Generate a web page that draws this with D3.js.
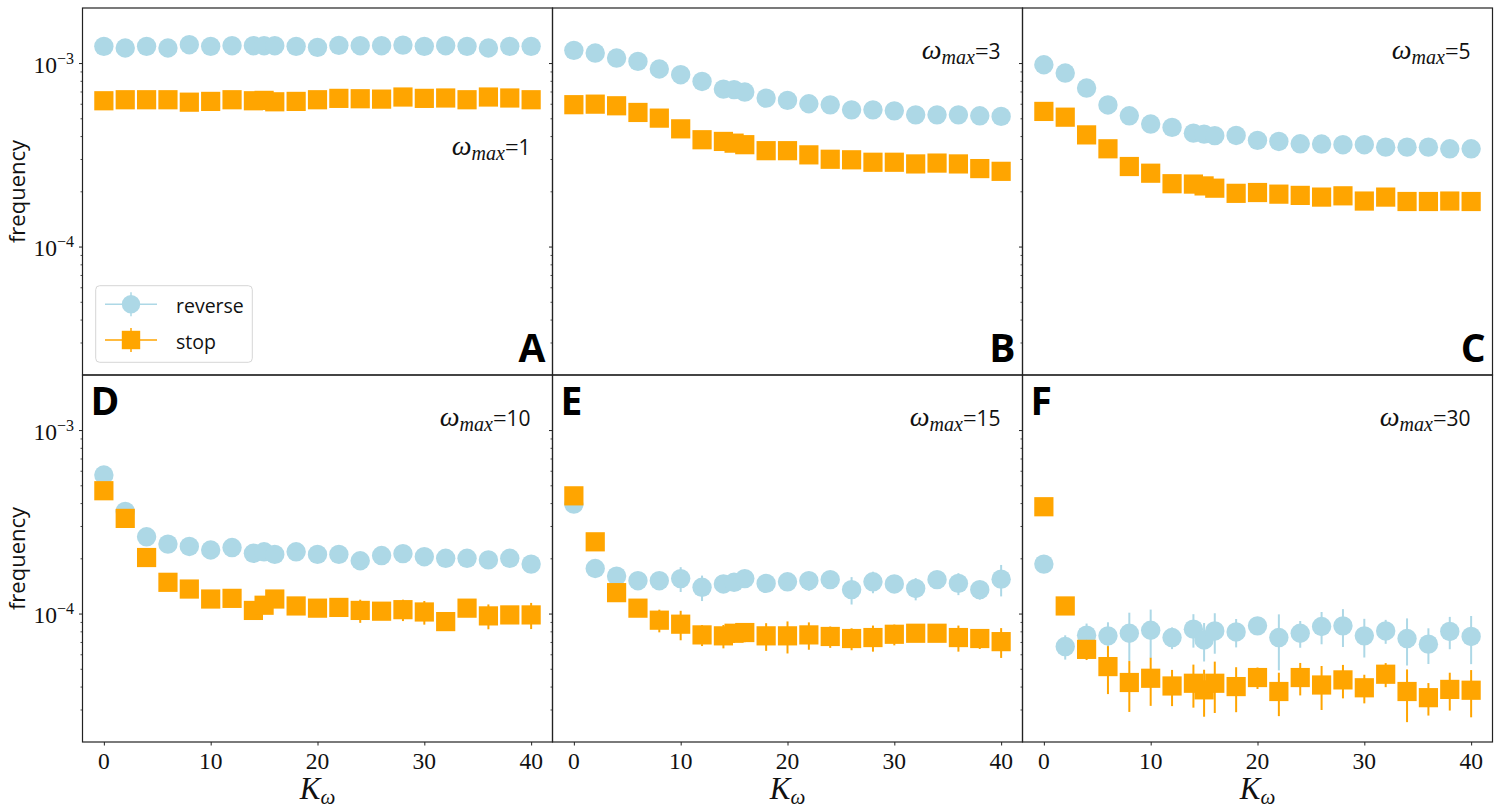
<!DOCTYPE html>
<html>
<head>
<meta charset="utf-8">
<script src="https://cdn.jsdelivr.net/npm/d3@7"></script>
<style>
  body { margin: 0; background: #fff; }
  svg { display: block; }
</style>
</head>
<body>
<div id="chart"></div>
<script>
// K_omega values shared by every panel
const kOmega = [0, 2, 4, 6, 8, 10, 12, 14, 15, 16, 18, 20, 22, 24, 26, 28, 30, 32, 34, 36, 38, 40];

const panelLetters = ['A', 'B', 'C', 'D', 'E', 'F'];
const omegaMax = ['1', '3', '5', '10', '15', '30'];

const reverseA = [1.233e-3, 1.208e-3, 1.233e-3, 1.208e-3, 1.259e-3, 1.233e-3, 1.243e-3, 1.243e-3, 1.243e-3, 1.243e-3, 1.233e-3,
    1.218e-3, 1.248e-3, 1.243e-3, 1.243e-3, 1.253e-3, 1.233e-3, 1.243e-3, 1.233e-3, 1.208e-3, 1.233e-3, 1.233e-3];
const stopA = [6.23e-4, 6.31e-4, 6.31e-4, 6.31e-4, 6.12e-4, 6.18e-4, 6.31e-4, 6.23e-4, 6.26e-4, 6.15e-4, 6.18e-4,
    6.31e-4, 6.42e-4, 6.39e-4, 6.36e-4, 6.53e-4, 6.42e-4, 6.45e-4, 6.31e-4, 6.53e-4, 6.45e-4, 6.31e-4];

const reverseB = [1.173e-3, 1.134e-3, 1.065e-3, 1.021e-3, 9.28e-4, 8.64e-4, 7.94e-4, 7.21e-4, 7.16e-4, 6.95e-4, 6.44e-4,
    6.26e-4, 6.0e-4, 5.92e-4, 5.56e-4, 5.56e-4, 5.49e-4, 5.22e-4, 5.22e-4, 5.22e-4, 5.16e-4, 5.12e-4];
const stopB = [5.93e-4, 5.97e-4, 5.85e-4, 5.38e-4, 5.01e-4, 4.38e-4, 3.82e-4, 3.74e-4, 3.66e-4, 3.59e-4, 3.33e-4,
    3.33e-4, 3.16e-4, 2.99e-4, 2.97e-4, 2.88e-4, 2.88e-4, 2.82e-4, 2.85e-4, 2.82e-4, 2.66e-4, 2.57e-4];

const reverseC = [9.79e-4, 8.82e-4, 7.31e-4, 5.91e-4, 5.16e-4, 4.65e-4, 4.46e-4, 4.15e-4, 4.1e-4, 4.02e-4, 4.03e-4,
    3.79e-4, 3.74e-4, 3.63e-4, 3.62e-4, 3.59e-4, 3.59e-4, 3.48e-4, 3.48e-4, 3.48e-4, 3.41e-4, 3.41e-4];
const stopC = [5.45e-4, 5.07e-4, 4.06e-4, 3.41e-4, 2.73e-4, 2.51e-4, 2.2e-4, 2.19e-4, 2.14e-4, 2.08e-4, 1.95e-4,
    1.97e-4, 1.93e-4, 1.9e-4, 1.86e-4, 1.89e-4, 1.77e-4, 1.86e-4, 1.76e-4, 1.76e-4, 1.77e-4, 1.76e-4];

const reverseD = [5.69e-4, 3.6e-4, 2.62e-4, 2.39e-4, 2.32e-4, 2.22e-4, 2.29e-4, 2.13e-4, 2.17e-4, 2.1e-4, 2.17e-4,
    2.1e-4, 2.1e-4, 1.94e-4, 2.07e-4, 2.12e-4, 2.04e-4, 2.0e-4, 2.0e-4, 1.96e-4, 2.0e-4, 1.86e-4];
const stopD = [4.67e-4, 3.3e-4, 2.02e-4, 1.48e-4, 1.36e-4, 1.2e-4, 1.21e-4, 1.04e-4, 1.11e-4, 1.2e-4, 1.1e-4,
    1.07e-4, 1.08e-4, 1.04e-4, 1.03e-4, 1.05e-4, 1.02e-4, 9.04e-5, 1.07e-4, 9.71e-5, 9.83e-5, 9.83e-5];
const reverseErrD = [5e-6, 5e-6, 5e-6, 5e-6, 5e-6, 5e-6, 5e-6, 5e-6, 5e-6, 5e-6, 1.6e-5,
    5e-6, 5e-6, 6e-6, 5e-6, 6e-6, 5e-6, 5e-6, 5e-6, 5e-6, 5e-6, 6e-6];
const stopErrD = [5e-6, 5e-6, 5e-6, 5e-6, 6e-6, 6e-6, 6e-6, 8e-6, 8e-6, 8e-6, 8e-6,
    8e-6, 8e-6, 1.5e-5, 8e-6, 1.4e-5, 1.5e-5, 8e-6, 8e-6, 1.5e-5, 1.0e-5, 1.6e-5];

const reverseE = [3.95e-4, 1.76e-4, 1.6e-4, 1.51e-4, 1.51e-4, 1.55e-4, 1.39e-4, 1.45e-4, 1.48e-4, 1.55e-4, 1.46e-4,
    1.49e-4, 1.51e-4, 1.53e-4, 1.35e-4, 1.49e-4, 1.45e-4, 1.37e-4, 1.53e-4, 1.46e-4, 1.35e-4, 1.54e-4];
const stopE = [4.38e-4, 2.46e-4, 1.3e-4, 1.07e-4, 9.2e-5, 8.75e-5, 7.65e-5, 7.56e-5, 7.81e-5, 7.88e-5, 7.56e-5,
    7.56e-5, 7.65e-5, 7.5e-5, 7.31e-5, 7.4e-5, 7.71e-5, 7.81e-5, 7.81e-5, 7.4e-5, 7.31e-5, 7.03e-5];
const reverseErrE = [5e-6, 8e-6, 8e-6, 1.0e-5, 1.0e-5, 2.4e-5, 2.2e-5, 1.5e-5, 1.2e-5, 1.4e-5, 1.0e-5,
    1.4e-5, 1.8e-5, 1.5e-5, 2.3e-5, 2.0e-5, 1.5e-5, 1.9e-5, 1.5e-5, 2.0e-5, 1.6e-5, 3.0e-5];
const stopErrE = [5e-6, 5e-6, 6e-6, 8e-6, 1.3e-5, 1.6e-5, 1.0e-5, 1.1e-5, 9e-6, 9e-6, 1.3e-5,
    1.5e-5, 1.3e-5, 1.0e-5, 1.0e-5, 1.2e-5, 1.0e-5, 8e-6, 8e-6, 1.2e-5, 9e-6, 1.3e-5];

const reverseF = [1.86e-4, 6.61e-5, 7.62e-5, 7.56e-5, 7.81e-5, 8.11e-5, 7.4e-5, 8.22e-5, 7.18e-5, 8.04e-5, 7.94e-5,
    8.57e-5, 7.4e-5, 7.81e-5, 8.5e-5, 8.57e-5, 7.56e-5, 8.04e-5, 7.31e-5, 6.81e-5, 7.99e-5, 7.5e-5];
const stopF = [3.82e-4, 1.1e-4, 6.38e-5, 5.14e-5, 4.21e-5, 4.44e-5, 4.03e-5, 4.17e-5, 3.84e-5, 4.17e-5, 4.0e-5,
    4.48e-5, 3.76e-5, 4.48e-5, 4.08e-5, 4.35e-5, 3.94e-5, 4.67e-5, 3.76e-5, 3.48e-5, 3.86e-5, 3.82e-5];
const reverseErrF = [6e-6, 1.0e-5, 1.2e-5, 1.4e-5, 2.3e-5, 2.4e-5, 1.0e-5, 1.7e-5, 1.7e-5, 2.0e-5, 1.4e-5,
    9e-6, 2.5e-5, 1.3e-5, 1.7e-5, 2.0e-5, 1.8e-5, 1.2e-5, 2.1e-5, 1.5e-5, 1.6e-5, 2.2e-5];
const stopErrF = [5e-6, 5e-6, 8e-6, 1.5e-5, 1.3e-5, 1.3e-5, 9e-6, 1.1e-5, 1.1e-5, 1.3e-5, 1.1e-5,
    6e-6, 1.0e-5, 9e-6, 1.1e-5, 9e-6, 7e-6, 7e-6, 1.2e-5, 7e-6, 9e-6, 1.1e-5];

const yMajor = [1e-4, 1e-3];
const yMajorExp = ['\u22124', '\u22123'];
const xTicks = [0, 10, 20, 30, 40];

const panels = [
    { reverse: reverseA, stop: stopA, revErr: null, stopErr: null },
    { reverse: reverseB, stop: stopB, revErr: null, stopErr: null },
    { reverse: reverseC, stop: stopC, revErr: null, stopErr: null },
    { reverse: reverseD, stop: stopD, revErr: reverseErrD, stopErr: stopErrD },
    { reverse: reverseE, stop: stopE, revErr: reverseErrE, stopErr: stopErrE },
    { reverse: reverseF, stop: stopF, revErr: reverseErrF, stopErr: stopErrF },
];

const width = 1500,
    height = 811;
const panelW = 470,
    panelH = 367;
const left0 = 82.5,
    top0 = 8;

const blue = '#ADD8E6',
    orange = '#FFA500';
const serif = "'Liberation Serif', 'DejaVu Serif', serif";
const sans = "'Open Sans', 'DejaVu Sans', sans-serif";

const svg = d3.select('#chart').append('svg').attr('width', width).attr('height', height);

const x = d3.scaleLinear().domain([-2, 42]).range([0, panelW]);
const y = d3.scaleLog().domain([Math.pow(10, -4.7), Math.pow(10, -2.7)]).range([panelH, 0]);

// minor ticks 2..9 x 10^n inside the domain
const yMinor = [];
[-5, -4, -3].forEach((e) => {
    for (let m = 2; m <= 9; m++) {
        const v = m * Math.pow(10, e);
        const py = y(v);
        if (py > 0.5 && py < panelH - 0.5) yMinor.push(v);
    }
});

panels.forEach((p, i) => {
    const col = i % 3,
        row = Math.floor(i / 3);
    const g = svg.append('g').attr('transform', `translate(${left0 + col * panelW},${top0 + row * panelH})`);

    // y ticks (outward, left side of every panel)
    g.append('g')
        .attr('class', 'y-minor')
        .call(d3.axisLeft(y).tickValues(yMinor).tickSize(2).tickFormat(''))
        .call((a) => a.select('.domain').remove())
        .selectAll('line')
        .attr('stroke', '#222')
        .attr('stroke-width', 0.8);
    g.append('g')
        .attr('class', 'y-major')
        .call(d3.axisLeft(y).tickValues(yMajor).tickSize(3.5).tickFormat(''))
        .call((a) => a.select('.domain').remove())
        .selectAll('line')
        .attr('stroke', '#222')
        .attr('stroke-width', 1);

    if (col === 0) {
        yMajor.forEach((v, j) => {
            const t = g
                .append('text')
                .attr('x', -8.5)
                .attr('y', y(v) + 9.5)
                .attr('text-anchor', 'end')
                .style('font-family', serif)
                .style('font-size', '23.5px')
                .attr('fill', '#111');
            t.append('tspan').text('10');
            t.append('tspan').attr('dy', -9).style('font-size', '16px').text(yMajorExp[j]);
        });
        g.append('text')
            .attr('transform', `translate(${25 - left0},${panelH / 2}) rotate(-90)`)
            .attr('text-anchor', 'middle')
            .style('font-family', sans)
            .style('font-size', '22px')
            .attr('fill', '#111')
            .text('frequency');
    }

    if (row === 1) {
        g.append('g')
            .attr('transform', `translate(0,${panelH})`)
            .call(d3.axisBottom(x).tickValues(xTicks).tickSize(3.5).tickFormat(''))
            .call((a) => a.select('.domain').remove())
            .selectAll('line')
            .attr('stroke', '#222');
        g.selectAll('text.xtick')
            .data(xTicks)
            .enter()
            .append('text')
            .attr('class', 'xtick')
            .attr('x', (d) => x(d))
            .attr('y', panelH + 27)
            .attr('text-anchor', 'middle')
            .style('font-family', serif)
            .style('font-size', '23.5px')
            .attr('fill', '#111')
            .text((d) => d);
        const xl = g
            .append('text')
            .attr('x', panelW / 2)
            .attr('y', panelH + 57)
            .attr('text-anchor', 'middle')
            .style('font-family', serif)
            .attr('fill', '#111');
        xl.append('tspan').style('font-style', 'italic').style('font-size', '31px').text('K');
        xl.append('tspan').attr('dy', 5).style('font-style', 'italic').style('font-size', '21px').text('\u03c9');
    }

    // series: reverse first, stop drawn on top
    const series = [
        { vals: p.reverse, err: p.revErr, color: blue, shape: 'circle' },
        { vals: p.stop, err: p.stopErr, color: orange, shape: 'square' },
    ];
    series.forEach((s) => {
        const pts = kOmega.map((k, j) => ({ k: k, v: s.vals[j], e: s.err ? s.err[j] : 0 }));
        g.append('g')
            .selectAll('line')
            .data(pts.filter((d) => d.e > 0))
            .enter()
            .append('line')
            .attr('x1', (d) => x(d.k))
            .attr('x2', (d) => x(d.k))
            .attr('y1', (d) => y(d.v - d.e))
            .attr('y2', (d) => y(d.v + d.e))
            .attr('stroke', s.color)
            .attr('stroke-width', 2);
        if (s.shape === 'circle') {
            g.append('g')
                .selectAll('circle')
                .data(pts)
                .enter()
                .append('circle')
                .attr('cx', (d) => x(d.k))
                .attr('cy', (d) => y(d.v))
                .attr('r', 9.7)
                .attr('fill', s.color);
        } else {
            g.append('g')
                .selectAll('rect')
                .data(pts)
                .enter()
                .append('rect')
                .attr('x', (d) => x(d.k) - 9.6)
                .attr('y', (d) => y(d.v) - 9.6)
                .attr('width', 19.2)
                .attr('height', 19.2)
                .attr('fill', s.color);
        }
    });

    // omega_max annotation
    const ann = g
        .append('text')
        .attr('x', panelW - 22)
        .attr('y', i === 0 ? 147 : 51)
        .attr('text-anchor', 'end')
        .attr('fill', '#111');
    ann.append('tspan').style('font-family', serif).style('font-style', 'italic').style('font-size', '28px').text('\u03c9');
    ann.append('tspan').attr('dy', 5).style('font-family', serif).style('font-style', 'italic').style('font-size', '20px').text('max');
    ann.append('tspan').attr('dy', -5).style('font-family', serif).style('font-size', '24px').text('=');
    ann.append('tspan').style('font-family', sans).style('font-size', '21px').text(omegaMax[i]);

    // panel letter
    g.append('text')
        .attr('x', row === 0 ? panelW - 7 : 8)
        .attr('y', row === 0 ? panelH - 13 : 40)
        .attr('text-anchor', row === 0 ? 'end' : 'start')
        .style('font-family', sans)
        .style('font-weight', 'bold')
        .style('font-size', '39px')
        .attr('fill', '#000')
        .text(panelLetters[i]);

    // frame
    g.append('rect')
        .attr('width', panelW)
        .attr('height', panelH)
        .attr('fill', 'none')
        .attr('stroke', '#222')
        .attr('stroke-width', 1.2);
});

// legend in panel A
const legendData = [
    { label: 'reverse', color: blue, shape: 'circle' },
    { label: 'stop', color: orange, shape: 'square' },
];
const legend = svg.append('g').attr('class', 'legend');
legend
    .append('rect')
    .attr('x', 95.7)
    .attr('y', 285.7)
    .attr('width', 156.6)
    .attr('height', 76.6)
    .attr('rx', 4)
    .attr('fill', 'white')
    .attr('stroke', '#d6d6d6')
    .attr('stroke-width', 1);
legendData.forEach((d, i) => {
    const cy = 304.3 + i * 35.7;
    legend.append('line').attr('x1', 105).attr('x2', 157).attr('y1', cy).attr('y2', cy).attr('stroke', d.color).attr('stroke-width', 1.5);
    legend.append('line').attr('x1', 131).attr('x2', 131).attr('y1', cy - 12).attr('y2', cy + 12).attr('stroke', d.color).attr('stroke-width', 1.5);
    if (d.shape === 'circle') {
        legend.append('circle').attr('cx', 131).attr('cy', cy).attr('r', 9.2).attr('fill', d.color);
    } else {
        legend.append('rect').attr('x', 121.8).attr('y', cy - 9.2).attr('width', 18.4).attr('height', 18.4).attr('fill', d.color);
    }
    legend
        .append('text')
        .attr('x', 176)
        .attr('y', cy + 8.5)
        .style('font-family', sans)
        .style('font-size', '19.5px')
        .attr('fill', '#111')
        .text(d.label);
});
</script>
</body>
</html>
